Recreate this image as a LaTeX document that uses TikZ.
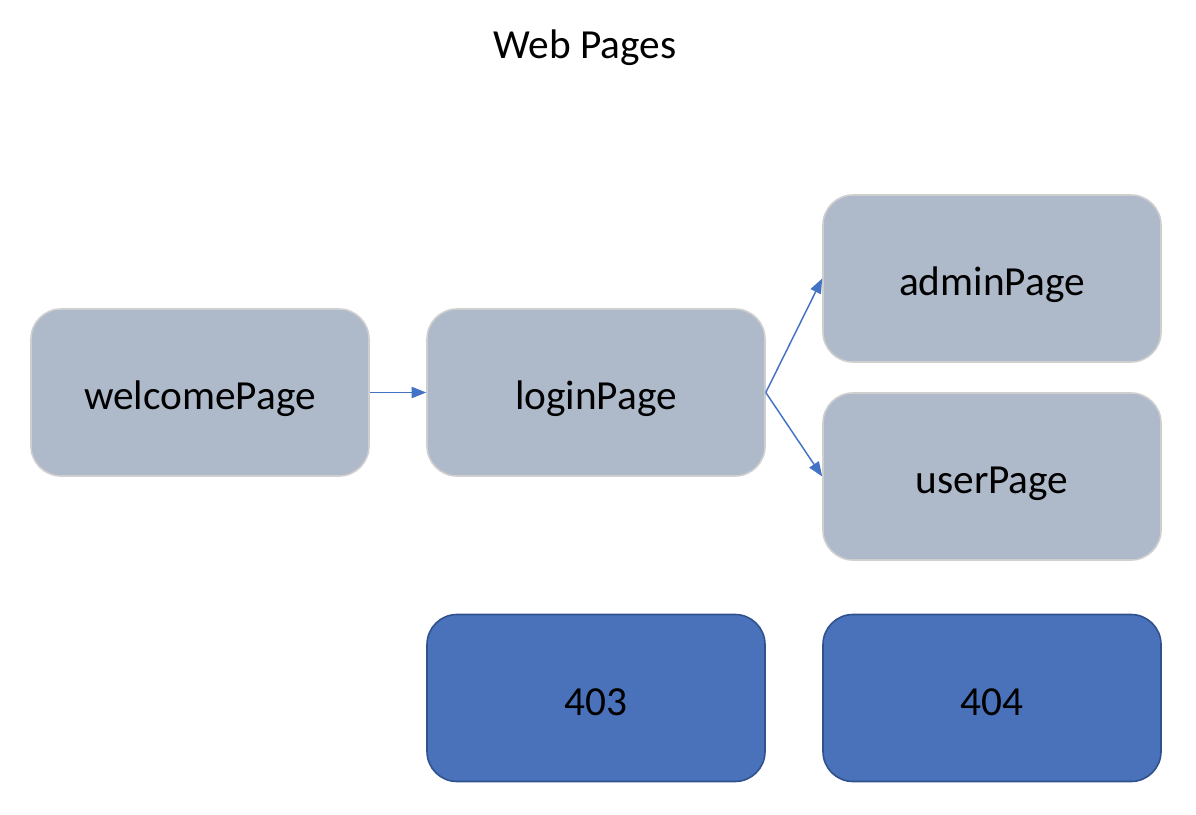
\documentclass[tikz,border=0pt]{standalone}
\usepackage{fontspec}
\setmainfont{Carlito}
\usepackage{tikz}
\usetikzlibrary{positioning,arrows.meta}
\usepackage{xcolor}
\definecolor{pagegray}{HTML}{AEB9CA}
\definecolor{pageline}{HTML}{CFCFCF}
\definecolor{errblue}{HTML}{4A72BA}
\definecolor{errline}{HTML}{2F528F}
\definecolor{arrowblue}{HTML}{4472C4}

\tikzset{
  every page/.style={rounded corners=22.5pt, minimum width=253.5pt, minimum height=125.25pt,
    line width=1.2pt, text height=28pt, text depth=2pt, font=\fontsize{31}{36}\selectfont},
  page/.style={fill=pagegray, draw=pageline},
  error/.style={fill=errblue, draw=errline},
  link/.style={->, arrowblue, line width=1.1pt},
}

\begin{document}
\begin{tikzpicture}[x=0.75pt, y=-0.75pt, >={Triangle[length=11pt,width=8.5pt]}]
	\useasboundingbox (0,0) rectangle (1196,814);

	\node [font=\fontsize{31}{36}\selectfont] (title) at (585,48) {Web Pages};

	\foreach \m/\x/\y in {welcomePage/200/392.5, loginPage/596/392.5, adminPage/992/278.5, userPage/992/476.5}
	  \node [every page, page] (\m) at (\x,\y) {\m};

	%errors
	\foreach \m/\x in {403/596, 404/992}
	  \node [every page, error] (err-\m) at (\x,698) {\m};

	\draw [link] (welcomePage) -- (loginPage);
	\foreach \m in {adminPage, userPage}
	  \draw [link] (loginPage.east) -- (\m.west);
\end{tikzpicture}
\end{document}
